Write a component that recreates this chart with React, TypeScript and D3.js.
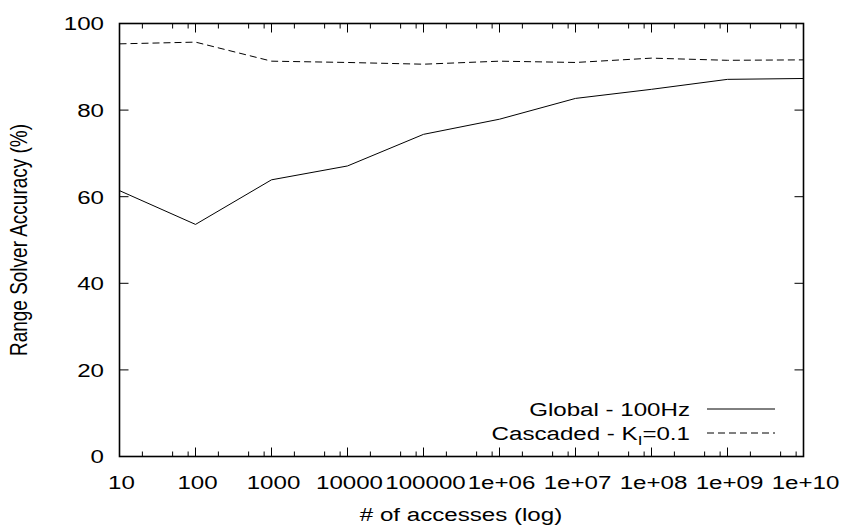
import React from "react";
import * as d3 from "d3";

const accesses = [10, 100, 1000, 1e4, 1e5, 1e6, 1e7, 1e8, 1e9, 1e10];
const xTickLabels = ["10", "100", "1000", "10000", "100000", "1e+06", "1e+07", "1e+08", "1e+09", "1e+10"];
const minorMultipliers = [2, 5, 8];
const globalValues = [61.4, 53.6, 63.9, 67.1, 74.4, 77.9, 82.7, 84.8, 87.1, 87.3];
const cascadedValues = [95.3, 95.7, 91.3, 91.0, 90.6, 91.3, 91.0, 92.0, 91.5, 91.6];
const yTicks = [0, 20, 40, 60, 80, 100];

const W = 844;
const H = 528;
const M = { left: 119.5, right: 803.5, top: 23.5, bottom: 456.5 };
const SX = 1.27;
const FS = 19;
const FONT = "'Liberation Sans', Arial, Helvetica, sans-serif";

function T({ x, y, anchor = "middle", children, rotate = false }: any) {
  const tr = rotate
    ? `translate(${x},${y}) rotate(-90) scale(1,${SX})`
    : `translate(${x},${y}) scale(${SX},1)`;
  return (
    <text transform={tr} textAnchor={anchor} fontFamily={FONT} fontSize={FS} fill="#000">
      {children}
    </text>
  );
}

export default function App() {
  const x = d3.scaleLog().domain([10, 1e10]).range([M.left, M.right]);
  const y = d3.scaleLinear().domain([0, 100]).range([M.bottom, M.top]);
  const line = d3
    .line<number>()
    .x((_, i) => x(accesses[i]))
    .y((v) => y(v));

  const minors: number[] = [];
  accesses.slice(0, -1).forEach((a) => minorMultipliers.forEach((m) => minors.push(a * m)));

  const MAJ = 9;
  const MIN = 5;
  const capHalf = (FS * 0.716) / 2;

  return (
    <svg width={W} height={H} style={{ position: "absolute", left: 0, top: 0, background: "#fff" }}>
      <rect x={0} y={0} width={W} height={H} fill="#fff" />
      <g stroke="#000" strokeWidth={1}>
        {accesses.map((a, i) => (
          <g key={"mx" + i}>
            <line x1={x(a)} x2={x(a)} y1={M.bottom} y2={M.bottom - MAJ} />
            <line x1={x(a)} x2={x(a)} y1={M.top} y2={M.top + MAJ} />
          </g>
        ))}
        {minors.map((a, i) => (
          <g key={"mn" + i}>
            <line x1={x(a)} x2={x(a)} y1={M.bottom} y2={M.bottom - MIN} />
            <line x1={x(a)} x2={x(a)} y1={M.top} y2={M.top + MIN} />
          </g>
        ))}
        {yTicks.map((t) => (
          <g key={"y" + t}>
            <line x1={M.left} x2={M.left + MAJ} y1={y(t)} y2={y(t)} />
            <line x1={M.right} x2={M.right - MAJ} y1={y(t)} y2={y(t)} />
          </g>
        ))}
      </g>
      <path d={line(globalValues) || ""} fill="none" stroke="#000" strokeWidth={1} />
      <path d={line(cascadedValues) || ""} fill="none" stroke="#000" strokeWidth={1} strokeDasharray="7 4" />
      <rect
        x={M.left}
        y={M.top}
        width={M.right - M.left}
        height={M.bottom - M.top}
        fill="none"
        stroke="#000"
        strokeWidth={1.6}
      />
      {yTicks.map((t) => (
        <T key={"yl" + t} x={104} y={y(t) + capHalf} anchor="end">
          {String(t)}
        </T>
      ))}
      {accesses.map((a, i) => (
        <T key={"xl" + i} x={x(a) + 2} y={489}>
          {xTickLabels[i]}
        </T>
      ))}
      <T x={461} y={521}>
        # of accesses (log)
      </T>
      <T x={27} y={240} rotate>
        Range Solver Accuracy (%)
      </T>
      <T x={690} y={409 + capHalf} anchor="end">
        Global - 100Hz
      </T>
      <line x1={707} x2={775} y1={409} y2={409} stroke="#000" strokeWidth={1} />
      <T x={690} y={433 + capHalf} anchor="end">
        Cascaded - K<tspan fontSize={FS * 0.7} dy={5}>I</tspan>
        <tspan dy={-5}>=0.1</tspan>
      </T>
      <line x1={707} x2={775} y1={433} y2={433} stroke="#000" strokeWidth={1} strokeDasharray="7 4" />
    </svg>
  );
}
